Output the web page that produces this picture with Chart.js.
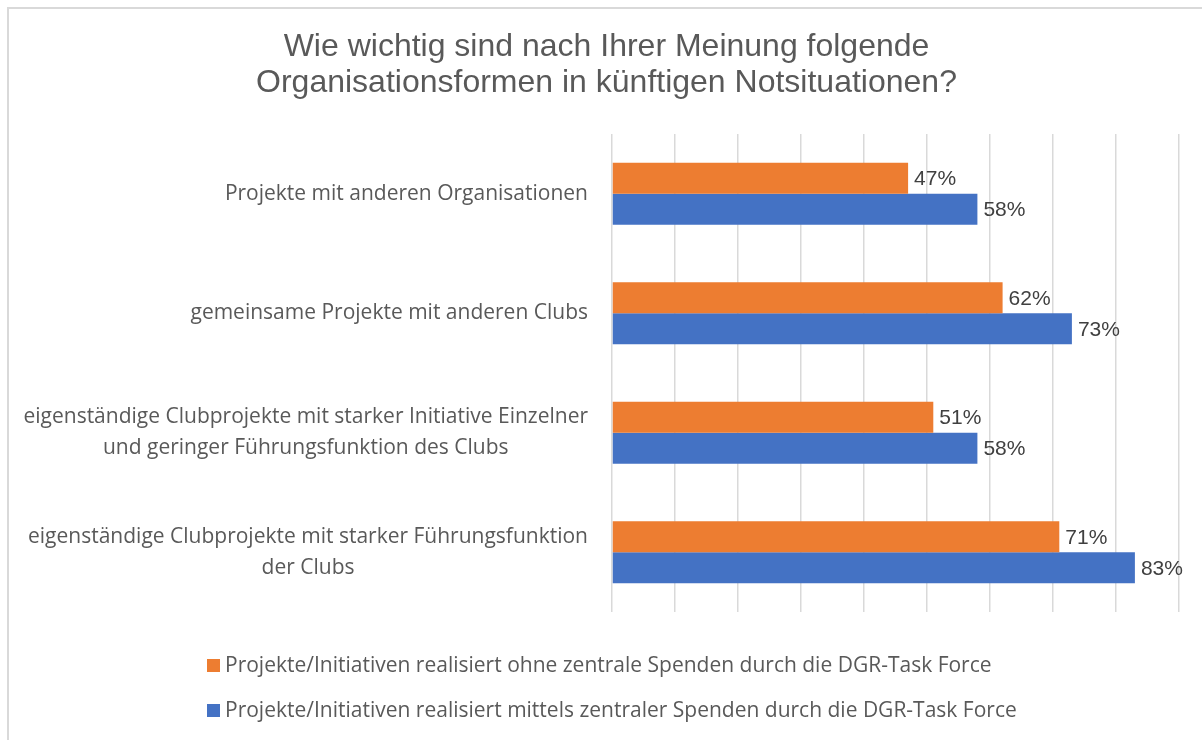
<!DOCTYPE html>
<html>
<head>
<meta charset="utf-8">
<script src="https://cdn.jsdelivr.net/npm/chart.js@4"></script>
<style>
  body { margin: 0; background: #fff; }
  #rahmen { position: absolute; left: 7px; top: 7px; width: 1210px; height: 750px; border: 2px solid #d9d9d9; }
  #wrap { position: absolute; left: 0; top: 0; width: 1202px; height: 740px; }
  #legende { position: absolute; left: 207px; top: 652px; font: 21px 'Open Sans', sans-serif; color: #595959; }
  #legende div { height: 24px; line-height: 24px; margin-bottom: 21px; white-space: nowrap; }
  #legende span { display: inline-block; width: 13px; height: 13px; margin-right: 5px; vertical-align: 0px; }
</style>
</head>
<body>
<div id="rahmen"></div>
<div id="wrap"><canvas id="grafik" width="1202" height="740"></canvas></div>
<div id="legende"></div>
<script>
// Kategorien (von oben nach unten), jede als Liste von Zeilen
const kategorien = [
    ['Projekte mit anderen Organisationen'],
    ['gemeinsame Projekte mit anderen Clubs'],
    ['eigenständige Clubprojekte mit starker Initiative Einzelner', 'und geringer Führungsfunktion des Clubs'],
    ['eigenständige Clubprojekte mit starker Führungsfunktion', 'der Clubs']
]

// Werte in Prozent
const ohneSpenden = [47, 62, 51, 71]
const mitSpenden = [58, 73, 58, 83]

const serienNamen = [
    'Projekte/Initiativen realisiert ohne zentrale Spenden durch die DGR-Task Force',
    'Projekte/Initiativen realisiert mittels zentraler Spenden durch die DGR-Task Force'
]
const farben = ['#ED7D31', '#4472C4']

const titel = ['Wie wichtig sind nach Ihrer Meinung folgende', 'Organisationsformen in künftigen Notsituationen?']

// Werte neben die Balken schreiben
const wertePlugin = {
    id: 'werte',
    afterDatasetsDraw(chart) {
        const ctx = chart.ctx
        ctx.save()
        ctx.font = '21px "Liberation Sans", Arial, sans-serif'
        ctx.fillStyle = '#404040'
        ctx.textAlign = 'left'
        ctx.textBaseline = 'middle'
        chart.data.datasets.forEach(function (ds, i) {
            chart.getDatasetMeta(i).data.forEach(function (bar, j) {
                ctx.fillText(ds.data[j] + '%', bar.x + 6, bar.y + 1)
            })
        })
        ctx.restore()
    }
}

// Kategorienbeschriftung: Block rechtsbündig, Zeilen zentriert
const kategorienPlugin = {
    id: 'kategorien',
    afterDraw(chart) {
        const ctx = chart.ctx
        const y = chart.scales.y
        const rechts = chart.chartArea.left - 24
        const zeilenHoehe = 31
        ctx.save()
        ctx.font = '21px "Open Sans", sans-serif'
        ctx.fillStyle = '#595959'
        ctx.textAlign = 'center'
        ctx.textBaseline = 'middle'
        kategorien.forEach(function (zeilen, i) {
            let breite = 0
            zeilen.forEach(function (z) { breite = Math.max(breite, ctx.measureText(z).width) })
            const mitte = y.getPixelForValue(i)
            const start = mitte - (zeilen.length - 1) * zeilenHoehe / 2
            zeilen.forEach(function (z, k) {
                ctx.fillText(z, rechts - breite / 2, start + k * zeilenHoehe)
            })
        })
        ctx.restore()
    }
}

new Chart(document.getElementById('grafik'), {
    type: 'bar',
    data: {
        labels: kategorien,
        datasets: [{
            label: serienNamen[0],
            data: ohneSpenden,
            backgroundColor: farben[0]
        }, {
            label: serienNamen[1],
            data: mitSpenden,
            backgroundColor: farben[1]
        }]
    },
    options: {
        indexAxis: 'y',
        responsive: false,
        animation: false,
        layout: { padding: { left: 34, right: 23, top: 0, bottom: 128 } },
        datasets: { bar: { categoryPercentage: 0.52, barPercentage: 1 } },
        scales: {
            x: {
                min: 0,
                max: 90,
                ticks: { display: false, stepSize: 10 },
                grid: { color: '#d9d9d9', lineWidth: 1.5, drawTicks: false },
                border: { display: false }
            },
            y: {
                ticks: { display: false },
                grid: { display: false },
                border: { display: false },
                afterFit: function (scale) { scale.width = 578 }
            }
        },
        plugins: {
            legend: { display: false },
            tooltip: { enabled: false },
            title: {
                display: true,
                text: titel,
                color: '#595959',
                font: { family: '"Liberation Sans", Arial, sans-serif', size: 32, weight: 'normal', lineHeight: 1.1 },
                padding: { top: 30, bottom: 33.6 }
            }
        }
    },
    plugins: [wertePlugin, kategorienPlugin]
})

// Legende als HTML, untereinander
const legende = document.getElementById('legende')
for (let i = 0; i < serienNamen.length; i++) {
    legende.innerHTML += '<div><span style="background:' + farben[i] + '"></span>' + serienNamen[i] + '</div>'
}
</script>
</body>
</html>
